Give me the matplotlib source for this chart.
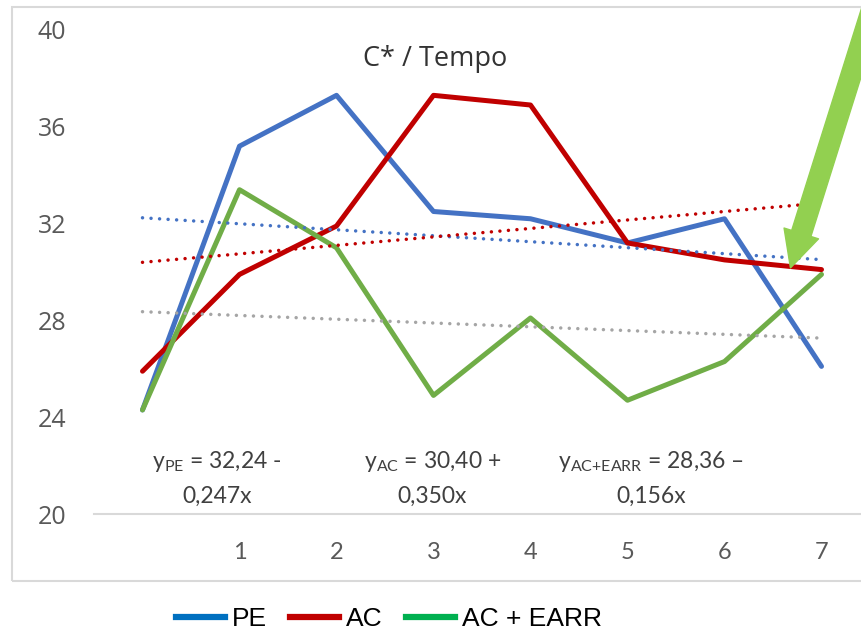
import matplotlib
matplotlib.use("Agg")
import matplotlib.pyplot as plt
from matplotlib.lines import Line2D
from matplotlib.patches import Rectangle
import numpy as np

# C* measured over time; point 0 is the starting value (no tick label)
tempo = [0, 1, 2, 3, 4, 5, 6, 7]
c_pe = [24.3, 35.2, 37.3, 32.5, 32.2, 31.2, 32.2, 26.1]
c_ac = [25.9, 29.9, 31.9, 37.3, 36.9, 31.2, 30.5, 30.1]
c_ac_earr = [24.3, 33.4, 31.0, 24.9, 28.1, 24.7, 26.3, 29.9]

series_names = ["PE", "AC", "AC + EARR"]
line_colors = ["#4472C4", "#C00000", "#70AD47"]
legend_colors = ["#0070C0", "#C00000", "#00B050"]
trend_colors = ["#4472C4", "#C00000", "#A5A5A5"]

# linear trendlines  y = a + b*x
trend_a = [32.24, 30.40, 28.36]
trend_b = [-0.247, 0.350, -0.156]
trend_subs = ["PE", "AC", "AC{+}EARR"]
trend_signs = ["-", "+", "–"]
eq_x = [0.77, 2.99, 5.24]

x_ticks = [1, 2, 3, 4, 5, 6, 7]
y_ticks = [20, 24, 28, 32, 36, 40]

plt.rcParams["mathtext.fontset"] = "custom"
plt.rcParams["mathtext.rm"] = "Lato"
plt.rcParams["mathtext.it"] = "Lato:italic"
plt.rcParams["mathtext.bf"] = "Lato:bold"

fig = plt.figure(figsize=(8.62, 6.32), dpi=100)
ax = fig.add_axes([94 / 862, 118 / 632, 776 / 862, 484 / 632])

for ys, col in zip([c_pe, c_ac, c_ac_earr], line_colors):
    ax.plot(tempo, ys, color=col, lw=3.6, solid_capstyle="round",
            solid_joinstyle="round", zorder=3)

xt = np.array([tempo[0], tempo[-1]])
for a, b, col in zip(trend_a, trend_b, trend_colors):
    ax.plot(xt, a + b * xt, color=col, lw=2.5, linestyle=(0, (0.01, 2.45)),
            dash_capstyle="round", zorder=4)

def fmt(v, nd):
    return f"{v:.{nd}f}".replace(".", ",")

for a, b, sub, sign, xe in zip(trend_a, trend_b, trend_subs, trend_signs, eq_x):
    line1 = r"$\mathrm{y}_{\mathrm{" + sub + r"}}$" + f" = {fmt(a, 2)} {sign}"
    line2 = f"{fmt(abs(b), 3)}x"
    ax.text(xe, 21.90, line1, ha="center", va="baseline", fontsize=16.5,
            family="Lato", color="#404040")
    ax.text(xe, 20.45, line2, ha="center", va="baseline", fontsize=16.5,
            family="Lato", color="#404040")

ax.set_xlim(-0.5, 7.5)
ax.set_ylim(20, 40)
ax.set_xticks(x_ticks)
ax.set_yticks(y_ticks)
for lab in ax.get_xticklabels():
    lab.set_family("Lato")
    lab.set_fontsize(17)
    lab.set_color("#595959")
for lab in ax.get_yticklabels():
    lab.set_family("Open Sans")
    lab.set_fontsize(18)
    lab.set_color("#595959")
ax.tick_params(axis="x", length=0, pad=20)
ax.tick_params(axis="y", length=0, pad=20)
for s in ["top", "right", "left"]:
    ax.spines[s].set_visible(False)
ax.spines["bottom"].set_color("#D9D9D9")
ax.spines["bottom"].set_linewidth(1.5)
ax.patch.set_visible(False)

fig.text(435 / 862, 1 - 59 / 632, "C* / Tempo", ha="center", va="center",
         fontsize=19.5, family="Open Sans", color="#333333")

# chart frame
fig.patches.append(Rectangle((12 / 862, 51 / 632), 900 / 862, 574 / 632,
                             transform=fig.transFigure, fill=False,
                             edgecolor="#D9D9D9", lw=1.5, zorder=0))

# green pointer arrow
ax.annotate("", xy=(6.68, 30.17), xycoords="data",
            xytext=(881, 652), textcoords="figure pixels",
            arrowprops=dict(width=14.5, headwidth=26, headlength=26,
                            color="#92D050", shrink=0),
            annotation_clip=False, zorder=6)

handles = [Line2D([], [], color=c, lw=4.5) for c in legend_colors]
fig.legend(handles, series_names, loc="center", ncol=3, frameon=False,
           bbox_to_anchor=(389 / 862, 1 - 619 / 632),
           prop={"family": "Liberation Sans", "size": 19},
           handlelength=1.85, handletextpad=0.27, columnspacing=0.87,
           borderpad=0, borderaxespad=0)

fig.savefig("out.png", dpi=100)
